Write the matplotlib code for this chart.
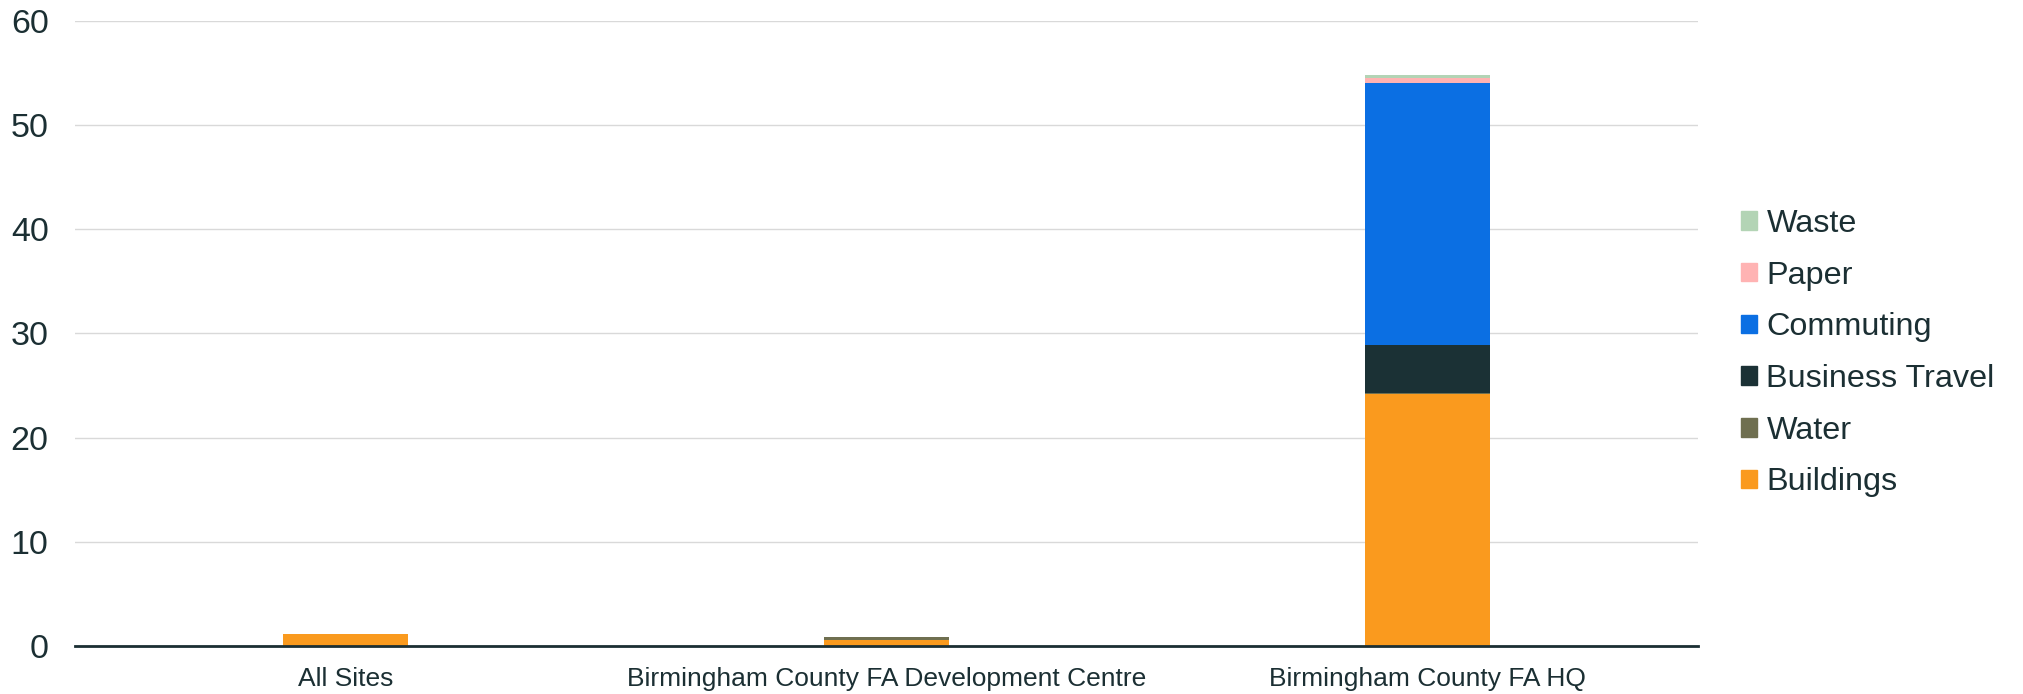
import numpy as np
import matplotlib.pyplot as plt
from matplotlib.patches import Rectangle

plt.rcParams['font.family'] = ['Liberation Sans', 'DejaVu Sans']

sites = ['All Sites', 'Birmingham County FA Development Centre', 'Birmingham County FA HQ']
categories = ['Buildings', 'Water', 'Business Travel', 'Commuting', 'Paper', 'Waste']
colors = ['#fa9a1e', '#6f6f50', '#1b3135', '#0b6fe3', '#ffb3b3', '#b3d4b5']

buildings = [1.15, 0.62, 24.2]
water = [0.0, 0.22, 0.05]
business_travel = [0.0, 0.0, 4.6]
commuting = [0.0, 0.0, 25.2]
paper = [0.0, 0.02, 0.4]
waste = [0.0, 0.0, 0.3]

series = [buildings, water, business_travel, commuting, paper, waste]
text_col = '#1b2f33'

fig = plt.figure(figsize=(20.23, 6.94), dpi=100)
ax = fig.add_axes([0.0371, 0.0692, 0.8023, 0.9011])

x = np.arange(len(sites))
bottom = np.zeros(len(sites))
for vals, col in zip(series, colors):
    ax.bar(x, vals, width=0.23, bottom=bottom, color=col, zorder=3)
    bottom += np.array(vals)

ax.set_xlim(-0.5, 2.5)
ax.set_ylim(0, 60)
ax.set_yticks(range(0, 61, 10))
ax.set_xticks(x)
ax.set_xticklabels(sites, fontsize=19, color=text_col)
ax.tick_params(axis='y', labelsize=24.5, labelcolor=text_col, length=0, pad=19)
ax.tick_params(axis='x', length=0, pad=15)
ax.grid(axis='y', color='#d9d9d9', linewidth=1, zorder=0)
for s in ['top', 'right', 'left']:
    ax.spines[s].set_visible(False)
ax.spines['bottom'].set_color(text_col)
ax.spines['bottom'].set_linewidth(2)
ax.spines['bottom'].set_zorder(4)

# legend, top-down order matches the stack
handles = [Rectangle((0, 0), 1, 1, color=c) for c in colors][::-1]
leg = fig.legend(handles, categories[::-1], loc='center left', bbox_to_anchor=(0.846, 0.491),
                 frameon=False, fontsize=23.3, handlelength=0.5, handleheight=0.5,
                 handletextpad=0.3, labelspacing=0.67)
for t in leg.get_texts():
    t.set_color(text_col)

fig.savefig('out.png', dpi=100)
